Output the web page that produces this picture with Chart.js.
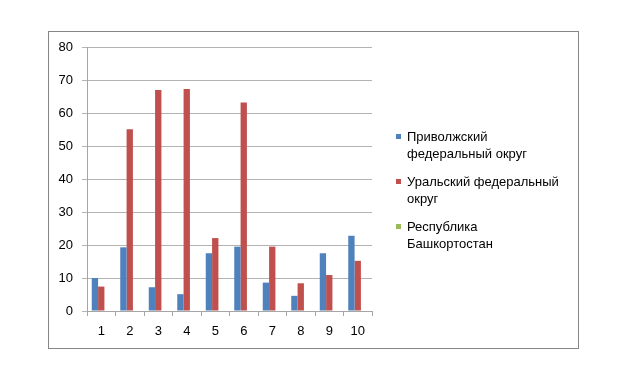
<!DOCTYPE html>
<html>
<head>
<meta charset="utf-8">
<script src="https://cdn.jsdelivr.net/npm/chart.js@4.4.1/dist/chart.umd.min.js"></script>
<style>
    body { margin: 0; background: #fff; }
    #wrap { position: relative; width: 626px; height: 376px; overflow: hidden; }
    #frame { position: absolute; left: 48px; top: 31px; width: 529px; height: 316px; border: 1px solid #868686; }
    #chart { position: absolute; left: 0; top: 0; }
    #legend { position: absolute; left: 396px; top: 128px; font-family: "Liberation Sans", Arial, sans-serif; font-size: 13px; color: #000; }
    .item { position: relative; padding-left: 11px; line-height: 17px; margin-bottom: 11px; }
    .box { position: absolute; left: 0; top: 6px; width: 5px; height: 5px; }
</style>
</head>
<body>
<div id="wrap">
    <div id="frame"></div>
    <canvas id="chart" width="626" height="376"></canvas>
    <div id="legend"></div>
</div>
<script>
const categories = ['1', '2', '3', '4', '5', '6', '7', '8', '9', '10'];
const seriesNames = [
    ['Приволжский', 'федеральный округ'],
    ['Уральский федеральный', 'округ'],
    ['Республика', 'Башкортостан']
];
const privolzhsky = [10.0, 19.3, 7.2, 5.1, 17.5, 19.5, 8.6, 4.6, 17.5, 22.8];
const uralsky = [7.4, 55.1, 67.0, 67.3, 22.1, 63.2, 19.5, 8.4, 10.9, 15.2];
const bashkortostan = [null, null, null, null, null, null, null, null, null, null];
const yTicks = [0, 10, 20, 30, 40, 50, 60, 70, 80];
const seriesColors = ['#4f81bd', '#c0504d', '#9bbb59'];

const values = [privolzhsky, uralsky, bashkortostan];
const tickFont = { family: '"Liberation Sans", Arial, sans-serif', size: 13 };

new Chart(document.getElementById('chart'), {
    type: 'bar',
    data: {
        labels: categories,
        datasets: values.map((v, i) => ({
            label: seriesNames[i].join(' '),
            data: v,
            backgroundColor: seriesColors[i],
            categoryPercentage: 3 / 4.5,
            barPercentage: 1
        }))
    },
    options: {
        responsive: false,
        animation: false,
        layout: { padding: { top: 47, right: 254, left: 0, bottom: 0 } },
        plugins: { legend: { display: false }, tooltip: { enabled: false } },
        scales: {
            x: {
                afterFit: s => { s.height = 65; },
                grid: { drawOnChartArea: false, drawTicks: true, tickLength: 5, color: '#a6a6a6', offset: true },
                border: { color: '#a6a6a6' },
                ticks: { font: tickFont, color: '#000', padding: 8 }
            },
            y: {
                min: 0,
                max: 80,
                afterFit: s => { s.width = 87; },
                afterBuildTicks: s => { s.ticks = yTicks.map(v => ({ value: v })); },
                grid: { color: '#b3b3b3', tickLength: 5 },
                border: { color: '#a6a6a6' },
                ticks: { font: tickFont, color: '#000', padding: 9 }
            }
        }
    }
});

document.getElementById('legend').innerHTML = seriesNames.map((lines, i) => `
    <div class="item"><span class="box" style="background:${seriesColors[i]}"></span>${lines.join('<br>')}</div>
`).join('');
</script>
</body>
</html>
